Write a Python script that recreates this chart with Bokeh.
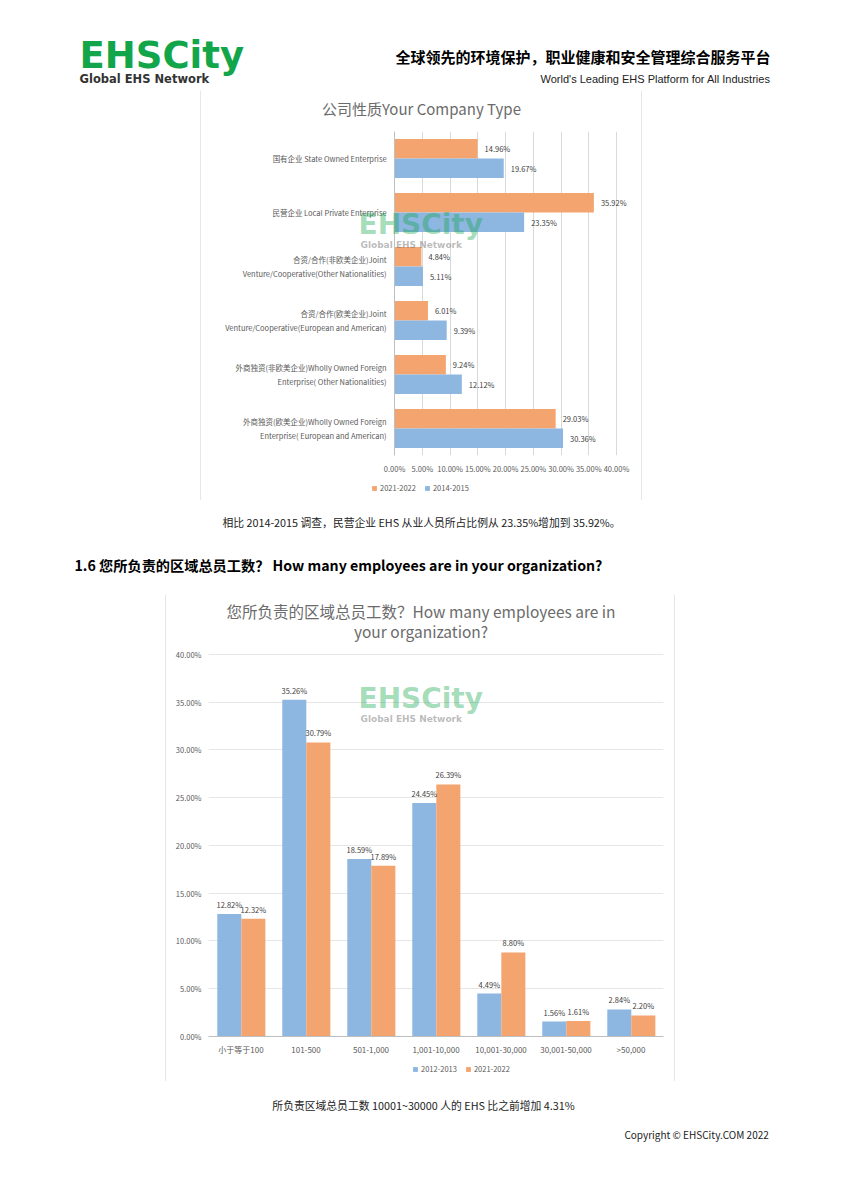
from bokeh.plotting import figure
from bokeh.layouts import column, row
from bokeh.models import (Range1d, FactorRange, ColumnDataSource, Label, Legend, LegendItem,
                          FixedTicker, Spacer, CustomJSTickFormatter)
from bokeh.transform import dodge
from bokeh.core.properties import value
from bokeh.embed import file_html
from bokeh.resources import INLINE

# ---------------- data ----------------
type_categories = [
    "国有企业 State Owned Enterprise",
    "民营企业 Local Private Enterprise",
    "合资/合作(非欧美企业)Joint\nVenture/Cooperative(Other Nationalities)",
    "合资/合作(欧美企业)Joint\nVenture/Cooperative(European and American)",
    "外商独资(非欧美企业)Wholly Owned Foreign\nEnterprise( Other Nationalities)",
    "外商独资(欧美企业)Wholly Owned Foreign\nEnterprise( European and American)",
]
type_2021_2022 = [14.96, 35.92, 4.84, 6.01, 9.24, 29.03]
type_2014_2015 = [19.67, 23.35, 5.11, 9.39, 12.12, 30.36]
type_ticks = [0, 5, 10, 15, 20, 25, 30, 35, 40]

size_categories = ["小于等于100", "101-500", "501-1,000", "1,001-10,000",
                   "10,001-30,000", "30,001-50,000", ">50,000"]
size_2012_2013 = [12.82, 35.26, 18.59, 24.45, 4.49, 1.56, 2.84]
size_2021_2022 = [12.32, 30.79, 17.89, 26.39, 8.80, 1.61, 2.20]
size_ticks = [0, 5, 10, 15, 20, 25, 30, 35, 40]

# ---------------- styles ----------------
ORANGE = "#F4A46E"
BLUE = "#8DB6E1"
CJK = "Noto Sans CJK SC"
LOGO_FONT = "DejaVu Sans"
GREEN = "#12a54a"
AXIS_TXT = "#595959"
TITLE_TXT = "#6b6b6b"
LABEL_TXT = "#404040"
BORDER = "#d0d0d0"
pct = CustomJSTickFormatter(code="return tick.toFixed(2) + '%';")


def blank(w, h, fill="#ffffff"):
    p = figure(width=w, height=h, x_range=Range1d(0, w), y_range=Range1d(h, 0),
               output_backend="svg", toolbar_location=None, min_border=0,
               x_axis_location=None, y_axis_location=None,
               background_fill_color=fill, border_fill_color=fill)
    p.grid.visible = False
    p.outline_line_color = None
    return p


def boxed(inner, w, h):
    return column(blank(w + 2, 1, BORDER),
                  row(blank(1, h, BORDER), inner, blank(1, h, BORDER), spacing=0),
                  blank(w + 2, 1, BORDER), spacing=0)


def txt(p, x, y, s, size, color="#000000", font=CJK, align="left", baseline="middle", style="normal"):
    p.text(x=[x], y=[y], text=[s], text_font=value(font), text_font_size=size,
           text_color=color, text_align=align, text_baseline=baseline, text_font_style=style)


def style_axes(ax, size, standoff, line_color=None):
    ax.axis_line_color = line_color
    ax.major_tick_line_color = None
    ax.minor_tick_line_color = None
    ax.major_tick_out = 0
    ax.major_tick_in = 0
    ax.major_label_standoff = standoff
    ax.major_label_text_font = CJK
    ax.major_label_text_font_size = size
    ax.major_label_text_color = AXIS_TXT


def legend_strip(w, h, entries, x, y):
    lf = blank(w, h)
    items = []
    for label, color in entries:
        # hidden proxy renderer: only its swatch is shown in the legend
        r = lf.rect(x=[0], y=[0], width=1, height=1, fill_color=color, line_color=None, visible=False)
        items.append(LegendItem(label=label, renderers=[r]))
    lf.add_layout(Legend(items=items, orientation="horizontal", location=(x, y), label_text_font=CJK,
                         label_text_font_size="7.5px", label_text_color=AXIS_TXT, glyph_width=6,
                         glyph_height=6, label_height=8, label_standoff=3, spacing=8, padding=2,
                         margin=0, border_line_color=None, background_fill_alpha=0))
    return lf


def watermark(p, x, y):
    p.add_layout(Label(x=x, y=y, x_units="screen", y_units="screen", text="EHSCity",
                       text_font=LOGO_FONT, text_font_size="28px", text_font_style="bold",
                       text_color=GREEN, text_alpha=0.4))
    p.add_layout(Label(x=x + 2, y=y - 9, x_units="screen", y_units="screen", text="Global EHS Network",
                       text_font=LOGO_FONT, text_font_size="9px", text_font_style="bold",
                       text_color="#666666", text_alpha=0.45))


# ---------------- header ----------------
header = blank(826, 81)
txt(header, 71, 47, "EHSCity", "37px", GREEN, LOGO_FONT, style="bold")
txt(header, 71, 70, "Global EHS Network", "11.5px", "#333333", LOGO_FONT, style="bold")
txt(header, 762, 48, "全球领先的环境保护，职业健康和安全管理综合服务平台", "15px", "#000000", align="right", style="bold")
txt(header, 762, 70, "World's Leading EHS Platform for All Industries", "11px", "#222222", "Liberation Sans", align="right")

# ---------------- chart 1 ----------------
title1 = blank(440, 41)
txt(title1, 220, 18, "公司性质Your Company Type", "15px", TITLE_TXT, align="center")

src1 = ColumnDataSource(dict(
    cat=type_categories, v2021=type_2021_2022, v2014=type_2014_2015,
    l2021=[f"{v:.2f}%" for v in type_2021_2022], l2014=[f"{v:.2f}%" for v in type_2014_2015]))

p1 = figure(width=440, height=347, y_range=FactorRange(factors=list(reversed(type_categories))),
            x_range=Range1d(-34.8, 44.5), output_backend="svg", toolbar_location=None,
            min_border_left=0, min_border_right=0, min_border_top=0, min_border_bottom=23)
p1.title.visible = False
r1o = p1.hbar(y=dodge("cat", 0.18, range=p1.y_range), right="v2021", left=0, height=0.36,
              source=src1, fill_color=ORANGE, line_color=None)
r1b = p1.hbar(y=dodge("cat", -0.18, range=p1.y_range), right="v2014", left=0, height=0.36,
              source=src1, fill_color=BLUE, line_color=None)
p1.text(x="v2021", y=dodge("cat", 0.18, range=p1.y_range), text="l2021", source=src1, x_offset=7,
        text_baseline="middle", text_font_size="7.5px", text_color=LABEL_TXT, text_font=value(CJK))
p1.text(x="v2014", y=dodge("cat", -0.18, range=p1.y_range), text="l2014", source=src1, x_offset=7,
        text_baseline="middle", text_font_size="7.5px", text_color=LABEL_TXT, text_font=value(CJK))

p1.xaxis.ticker = FixedTicker(ticks=type_ticks)
p1.xaxis.formatter = pct
style_axes(p1.xaxis, "7.5px", 7)
style_axes(p1.yaxis, "7.5px", 8, "#bfbfbf")
p1.yaxis.fixed_location = 0
p1.ygrid.grid_line_color = None
p1.xgrid.grid_line_color = "#d9d9d9"
p1.outline_line_color = None
watermark(p1, 157, 215)

leg1 = legend_strip(440, 22, [("2021-2022", ORANGE), ("2014-2015", BLUE)], 170, 7)

# ---------------- middle ----------------
middle = blank(826, 92)
txt(middle, 413, 20, "相比 2014-2015 调查，民营企业 EHS 从业人员所占比例从 23.35%增加到 35.92%。", "10.8px", "#222222", align="center")
txt(middle, 66, 63, "1.6  您所负责的区域总员工数？ How many employees are in your organization?", "14.2px", "#000000", style="bold")

# ---------------- chart 2 ----------------
src2 = ColumnDataSource(dict(
    cat=size_categories, v2012=size_2012_2013, v2021=size_2021_2022,
    l2012=[f"{v:.2f}%" for v in size_2012_2013], l2021=[f"{v:.2f}%" for v in size_2021_2022]))

p2 = figure(width=508, height=464, x_range=FactorRange(factors=size_categories),
            y_range=Range1d(0, 46.28), output_backend="svg", toolbar_location=None,
            min_border_left=42, min_border_right=11, min_border_top=0, min_border_bottom=22)
p2.title.visible = False
r2b = p2.vbar(x=dodge("cat", -0.18, range=p2.x_range), top="v2012", bottom=0, width=0.37,
              source=src2, fill_color=BLUE, line_color=None)
r2o = p2.vbar(x=dodge("cat", 0.19, range=p2.x_range), top="v2021", bottom=0, width=0.37,
              source=src2, fill_color=ORANGE, line_color=None)
p2.text(x=dodge("cat", -0.18, range=p2.x_range), y="v2012", text="l2012", source=src2, y_offset=-4,
        text_align="center", text_baseline="bottom", text_font_size="7.5px", text_color=LABEL_TXT,
        text_font=value(CJK))
p2.text(x=dodge("cat", 0.19, range=p2.x_range), y="v2021", text="l2021", source=src2, y_offset=-4,
        text_align="center", text_baseline="bottom", text_font_size="7.5px", text_color=LABEL_TXT,
        text_font=value(CJK))

for line, ty in (("您所负责的区域总员工数？How many employees are in", 426),
                 ("your organization?", 406)):
    p2.add_layout(Label(x=212.5, y=ty, x_units="screen", y_units="screen", text=line,
                        text_align="center", text_baseline="middle", text_font=CJK,
                        text_font_size="15.5px", text_color=TITLE_TXT))

p2.yaxis.ticker = FixedTicker(ticks=size_ticks)
p2.yaxis.formatter = pct
style_axes(p2.yaxis, "7.5px", 7)
style_axes(p2.xaxis, "8px", 7, "#bfbfbf")
p2.xgrid.grid_line_color = None
p2.ygrid.grid_line_color = "#e6e6e6"
p2.outline_line_color = None
watermark(p2, 150, 322)

leg2 = legend_strip(508, 23, [("2012-2013", BLUE), ("2021-2022", ORANGE)], 204, 7)

# ---------------- footer ----------------
footer = blank(826, 101)
txt(footer, 415, 22, "所负责区域总员工数 10001~30000 人的 EHS 比之前增加 4.31%", "10.8px", "#222222", align="center")
txt(footer, 767, 52, "Copyright  ©  EHSCity.COM  2022", "10px", "#222222", align="right")

page = column(
    header,
    row(Spacer(width=192, height=412),
        boxed(column(title1, p1, leg1, spacing=0), 440, 410), spacing=0),
    middle,
    row(Spacer(width=157, height=489), boxed(column(p2, leg2, spacing=0), 508, 487), spacing=0),
    footer,
    spacing=0,
)
layout = column(Spacer(width=834, height=8), row(Spacer(width=8, height=1175), page, spacing=0), spacing=0)

open("out.html", "w").write(file_html(layout, INLINE))
